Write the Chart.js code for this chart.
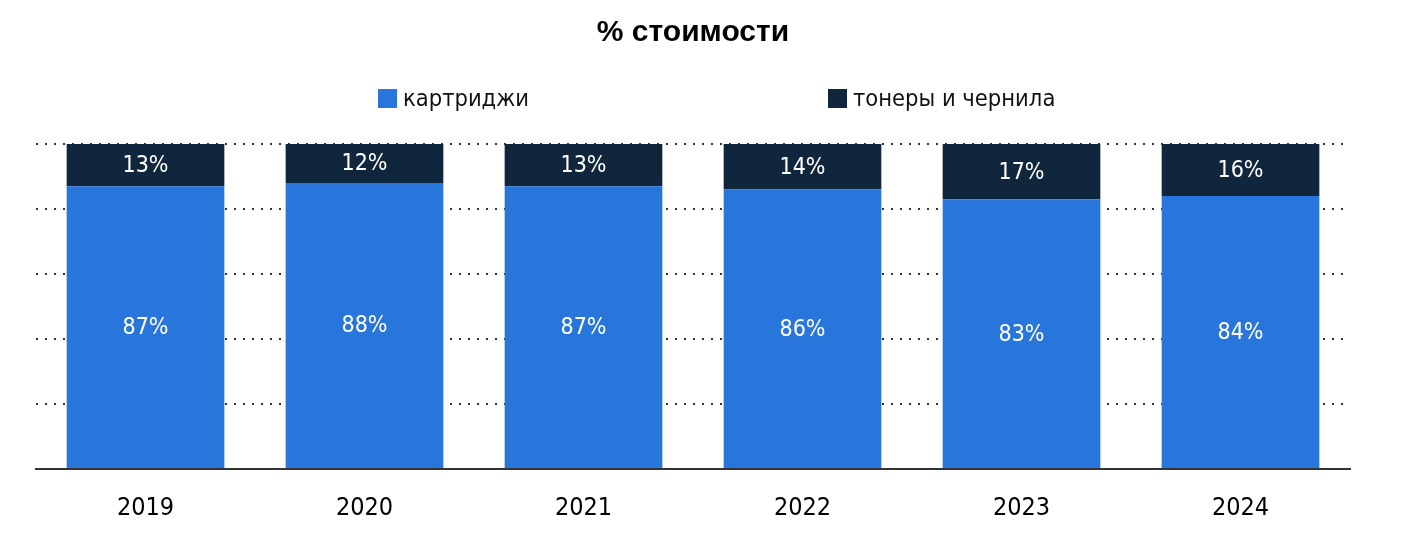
<!DOCTYPE html>
<html>
<head>
<meta charset="utf-8">
<script src="https://cdn.jsdelivr.net/npm/chart.js@4"></script>
<style>
	html, body { margin: 0; padding: 0; background: #fff; overflow: hidden; }
	#wrap { position: relative; width: 1408px; height: 548px; }
	#chart { display: block; }
	#title { position: absolute; top: 14px; left: 0; width: 1386px; text-align: center; font: bold 30px "Liberation Sans", Arial, sans-serif; color: #000; }
	.legend-item { position: absolute; top: 84px; font: 23.5px "DejaVu Sans Condensed", sans-serif; color: #111; white-space: nowrap; }
	.legend-box { display: inline-block; width: 19px; height: 19px; margin-right: 6px; vertical-align: -2px; }
</style>
</head>
<body>
<div id="wrap">
	<div id="title">% стоимости</div>
	<div class="legend-item" style="left: 378px;"><span class="legend-box" id="box0"></span><span id="lab0"></span></div>
	<div class="legend-item" style="left: 828px;"><span class="legend-box" id="box1"></span><span id="lab1"></span></div>
	<canvas id="chart" width="1408" height="548"></canvas>
</div>
<script>
const years = ["2019", "2020", "2021", "2022", "2023", "2024"];
const cartridges = [87, 88, 87, 86, 83, 84];
const tonersInks = [13, 12, 13, 14, 17, 16];

const seriesNames = ["картриджи", "тонеры и чернила"];
const seriesColors = ["#2876dc", "#10263c"];

const labelFont = "23px 'DejaVu Sans Condensed', sans-serif";

for(let i = 0; i < 2; i++)
{
	document.getElementById("box" + i).style.background = seriesColors[i];
	document.getElementById("lab" + i).textContent = seriesNames[i];
}

// draws the % values in the middle of every segment
const segmentLabels =
{
	id: "segmentLabels",
	afterDatasetsDraw(chart)
	{
		const ctx = chart.ctx;
		ctx.save();
		ctx.font = labelFont;
		ctx.fillStyle = "#fff";
		ctx.textAlign = "center";
		ctx.textBaseline = "middle";

		chart.data.datasets.forEach((ds, i) =>
		{
			chart.getDatasetMeta(i).data.forEach((bar, j) =>
			{
				const mid = (bar.y + bar.base) / 2;
				ctx.fillText(ds.data[j] + "%", bar.x, mid + 1);
			});
		});

		ctx.restore();
	}
};

new Chart(document.getElementById("chart"),
{
	type: "bar",
	data:
	{
		labels: years,
		datasets:
		[
			{ label: seriesNames[0], data: cartridges, backgroundColor: seriesColors[0] },
			{ label: seriesNames[1], data: tonersInks, backgroundColor: seriesColors[1] }
		]
	},
	options:
	{
		responsive: false,
		animation: false,
		devicePixelRatio: 1,
		categoryPercentage: 1,
		barPercentage: 0.72,
		layout: { padding: { top: 144, left: 36, right: 58, bottom: 9 } },
		plugins: { legend: { display: false }, title: { display: false }, tooltip: { enabled: false } },
		scales:
		{
			x:
			{
				stacked: true,
				grid: { display: false },
				border: { display: true, color: "#333", width: 2 },
				ticks: { color: "#000", font: { family: "'DejaVu Sans Condensed', sans-serif", size: 25 }, padding: 16 }
			},
			y:
			{
				stacked: true,
				min: 0,
				max: 100,
				ticks: { display: false, stepSize: 20 },
				border: { display: false, dash: [2, 7] },
				grid: { drawTicks: false, color: "#333", lineWidth: 2 }
			}
		}
	},
	plugins: [ segmentLabels ]
});
</script>
</body>
</html>
